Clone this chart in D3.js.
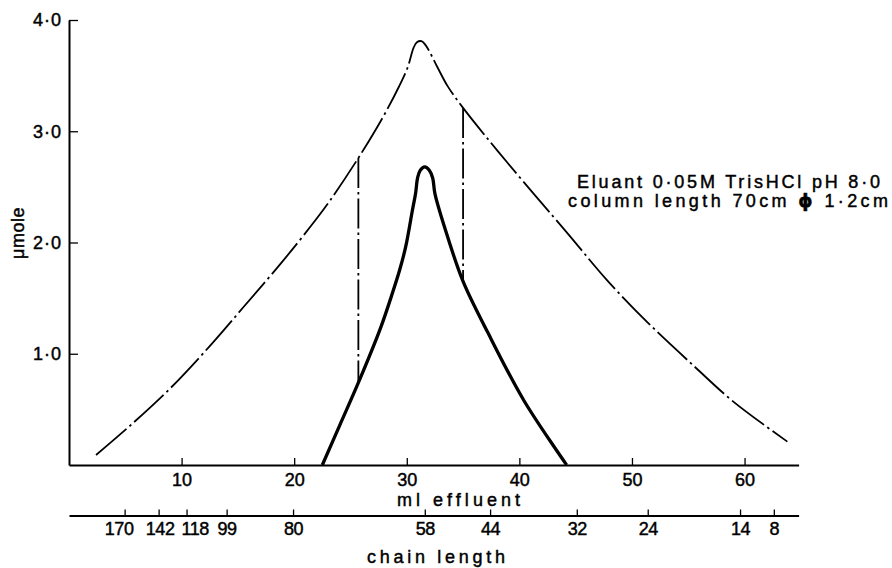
<!DOCTYPE html>
<html>
<head>
<meta charset="utf-8">
<script src="https://cdn.jsdelivr.net/npm/d3@7"></script>
<style>
  body { margin: 0; background: #fff; }
  text { font-family: "Liberation Sans", Arial, sans-serif; fill: #000; stroke: #000; stroke-width: 0.45px; }
</style>
</head>
<body>
<div id="chart"></div>
<script>

// total phosphate (dash-dot curve), ml effluent vs umole
var totalMl    = [2.4, 5.5, 9.0, 12.6, 15.5, 18.8, 21.5, 23.2, 25.7, 27.9, 29.3, 30.1, 30.6, 30.9, 31.3, 31.7, 32.7, 33.6, 35.0, 39.0, 44.3, 47.8, 51.4, 55.5, 59.0, 63.8];
var totalUmole = [0.09, 0.36, 0.69, 1.08, 1.42, 1.81, 2.15, 2.38, 2.76, 3.13, 3.40, 3.58, 3.75, 3.80, 3.81, 3.77, 3.58, 3.41, 3.21, 2.71, 2.08, 1.66, 1.28, 0.89, 0.57, 0.21];

// fraction peak (solid curve)
var peakMl    = [22.5, 24.1, 25.7, 27.7, 28.74, 29.36, 29.9, 30.5, 30.78, 30.96, 31.2, 31.6, 32.0, 32.3, 32.5, 33.35, 35.0, 37.2, 40.4, 44.2];
var peakUmole = [0.00, 0.37, 0.74, 1.24, 1.55, 1.75, 1.96, 2.29, 2.44, 2.58, 2.65, 2.68, 2.65, 2.58, 2.44, 2.14, 1.65, 1.19, 0.58, 0.00];

// cut lines of the pooled fraction
var cutMl     = [25.7, 35.0];
var cutTop    = [2.76, 3.21];
var cutBottom = [0.74, 1.65];

// axes
var mlTicks = [10, 20, 30, 40, 50, 60];
var umoleTicks = [1, 2, 3, 4];
var chainLabels = [170, 142, 118, 99, 80, 58, 44, 32, 24, 14, 8];
var chainMl     = [4.94, 7.96, 10.44, 14.0, 19.9, 31.6, 37.4, 45.1, 51.4, 59.6, 62.6];

var noteLine1 = "Eluant 0·05M TrisHCl pH 8·0";
var noteLine2 = ["column length  70cm ", "\u03D5", " 1·2cm"];

var svg = d3.select("#chart")
    .append("svg")
    .attr("width", 892)
    .attr("height", 568);

var x = d3.scaleLinear().domain([0, 64.8]).range([69, 798.6]);
var y = d3.scaleLinear().domain([0, 4]).range([465, 20]);

var dotFmt = function (d) { return d3.format(".1f")(d).replace(".", "·"); };

var styleAxis = function (g, size) {
    g.attr("font-family", null).attr("font-size", null);
    g.select(".domain").attr("stroke", "black").attr("stroke-width", 2);
    g.selectAll(".tick line").attr("stroke", "black").attr("stroke-width", 1.3);
    g.selectAll(".tick text").style("font-size", size + "px");
};

// y axis, ticks pointing inward
var yAxis = svg.append("g")
    .attr("transform", "translate(" + x(0) + ",0)")
    .call(d3.axisLeft(y).tickValues(umoleTicks).tickFormat(dotFmt)
        .tickSizeInner(-9).tickSizeOuter(0).tickPadding(7));
styleAxis(yAxis, 18);
yAxis.selectAll(".tick text").attr("letter-spacing", 1);

// ml effluent axis
var xAxis = svg.append("g")
    .attr("transform", "translate(0," + y(0) + ")")
    .call(d3.axisBottom(x).tickValues(mlTicks)
        .tickSizeInner(-7).tickSizeOuter(0).tickPadding(8));
styleAxis(xAxis, 18);

// chain length axis
var chainAxis = svg.append("g")
    .attr("transform", "translate(0,515.5)")
    .call(d3.axisBottom(x).tickValues(chainMl)
        .tickFormat(function (d, i) { return chainLabels[i]; })
        .tickSizeInner(-6).tickSizeOuter(0).tickPadding(7));
styleAxis(chainAxis, 18);
// hand lettered labels sit a little off their ticks where they are crowded
chainAxis.selectAll(".tick text")
    .attr("letter-spacing", -0.5)
    .attr("dx", function (d, i) {
        return chainLabels[i] === 170 ? -6 : chainLabels[i] === 118 ? 8 : chainLabels[i] === 142 ? 1 : 0;
    });

// axis titles
svg.append("text")
    .attr("x", 397).attr("y", 506)
    .attr("textLength", 123).attr("lengthAdjust", "spacing")
    .style("font-size", "18px")
    .text("ml effluent");

svg.append("text")
    .attr("x", 367).attr("y", 563)
    .attr("textLength", 138).attr("lengthAdjust", "spacing")
    .style("font-size", "18px")
    .text("chain length");

svg.append("text")
    .attr("transform", "translate(24,233) rotate(-90)")
    .attr("text-anchor", "middle")
    .attr("letter-spacing", 0.5)
    .style("font-size", "18px")
    .text("\u03BCmole");

// note
svg.append("text")
    .attr("x", 577).attr("y", 188)
    .attr("textLength", 303).attr("lengthAdjust", "spacing")
    .style("font-size", "18px")
    .text(noteLine1);

var note2 = svg.append("text")
    .attr("x", 568).attr("y", 207)
    .attr("textLength", 320).attr("lengthAdjust", "spacing")
    .style("font-size", "18px");
note2.selectAll("tspan")
    .data(noteLine2)
    .enter()
    .append("tspan")
    .style("font-size", function (d, i) { return i === 1 ? "18px" : null; })
    .style("font-weight", function (d, i) { return i === 1 ? "bold" : null; })
    .style("font-family", function (d, i) { return i === 1 ? "DejaVu Sans" : null; })
    .text(function (d) { return d; });

// curves
var line = d3.line()
    .x(function (d) { return x(d[0]); })
    .y(function (d) { return y(d[1]); })
    .curve(d3.curveCatmullRom.alpha(0.5));

var totalData = totalMl.map(function (m, i) { return [m, totalUmole[i]]; });
var peakData = peakMl.map(function (m, i) { return [m, peakUmole[i]]; });

svg.append("path")
    .datum(totalData)
    .attr("d", line)
    .attr("fill", "none")
    .attr("stroke", "black")
    .attr("stroke-width", 1.8)
    .attr("stroke-dasharray", "40,4,2.5,4");

svg.selectAll(".cutLine")
    .data(cutMl)
    .enter()
    .append("line")
    .attr("class", "cutLine")
    .attr("x1", function (d) { return x(d); })
    .attr("x2", function (d) { return x(d); })
    .attr("y1", function (d, i) { return y(cutTop[i]); })
    .attr("y2", function (d, i) { return y(cutBottom[i]); })
    .attr("stroke", "black")
    .attr("stroke-width", 1.8)
    .attr("stroke-dasharray", "30,4,2.5,4");

svg.append("path")
    .datum(peakData)
    .attr("d", line)
    .attr("fill", "none")
    .attr("stroke", "black")
    .attr("stroke-width", 3.3)
    .attr("stroke-linejoin", "round");

</script>
</body>
</html>
